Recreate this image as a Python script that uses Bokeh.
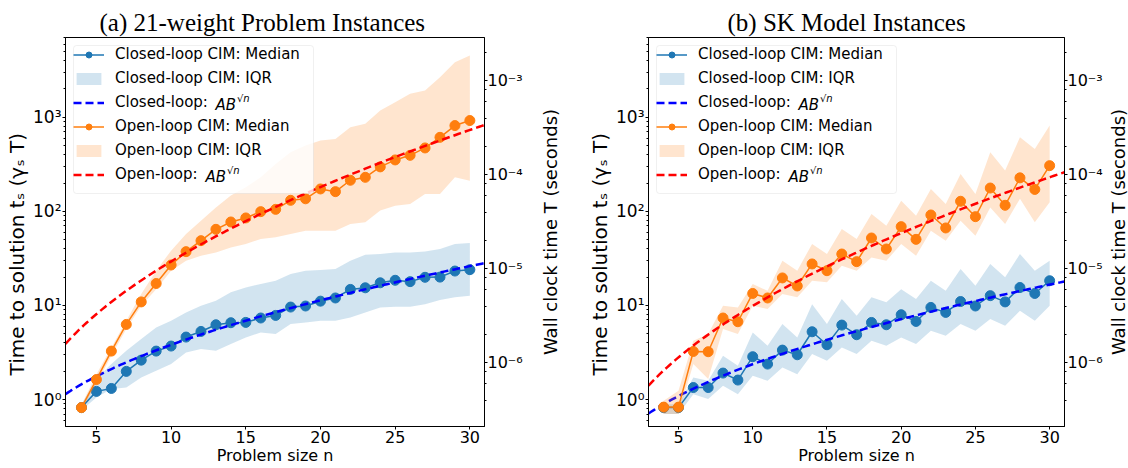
import numpy as np
from bokeh.plotting import figure
from bokeh.models import (Range1d, LogScale, LogAxis, Legend, LegendItem, Label, BoxAnnotation,
                          CustomJSTickFormatter, Title)
from bokeh.layouts import row
from bokeh.embed import file_html
from bokeh.resources import INLINE

# ---------------- data ----------------
n = list(range(4, 31))

# (a) 21-weight problem instances
a_closed_med = [0.82, 1.22, 1.31, 1.99, 2.62, 3.27, 3.70, 4.61, 5.29, 6.23, 6.55, 6.6, 7.35, 7.83,
                9.61, 9.86, 11.1, 12.0, 14.8, 15.4, 17.4, 18.5, 17.9, 19.9, 20.0, 23.2, 24.0]
a_closed_q1 = [0.77, 1.05, 1.29, 1.34, 1.71, 2.02, 2.38, 3.16, 3.44, 3.30, 3.88, 4.57, 5.16, 4.96,
               6.34, 6.59, 6.87, 6.87, 7.45, 8.43, 9.52, 9.69, 9.69, 10.3, 11.4, 12.2, 12.7]
a_closed_q3 = [0.88, 1.65, 2.38, 3.30, 4.39, 5.83, 6.87, 8.43, 9.93, 11.2, 13.8, 15.5, 16.9, 18.3,
               21.6, 23.4, 23.8, 24.4, 29.9, 34.6, 35.2, 36.6, 36.6, 37.5, 39.8, 45.0, 46.1]
a_open_med = [0.82, 1.63, 3.27, 6.28, 10.9, 17.1, 26.9, 37.3, 48.8, 64.4, 77.1, 85.1, 99.3, 105,
              131, 136, 173, 162, 214, 230, 297, 352, 394, 472, 612, 816, 923]
a_open_q1 = [0.77, 1.46, 2.92, 5.61, 9.93, 14.9, 23.4, 29.9, 33.8, 36.6, 41.4, 45.0, 50.9, 52.9,
             57.5, 62.3, 62.3, 62.3, 73.4, 76.4, 102, 115, 120, 153, 153, 230, 212]
a_open_q3 = [0.88, 1.86, 3.57, 6.87, 13.2, 23.4, 38.2, 57.5, 79.6, 110, 147, 180, 230, 319,
             424, 500, 565, 589, 783, 851, 1178, 1444, 1775, 1923, 2666, 3846, 4530]
a_closed_fit_A, a_closed_fit_B = 0.275, 2.297
a_open_fit_A, a_open_fit_B = 0.361, 4.017

# (b) SK model instances
b_closed_med = [0.82, 0.82, 1.34, 1.34, 1.91, 1.61, 2.85, 2.38, 3.35, 2.99, 5.25, 3.82, 6.18, 4.88,
                6.59, 6.23, 7.96, 6.76, 9.52, 8.43, 11.0, 9.86, 12.7, 10.9, 15.5, 13.4, 18.3]
b_closed_q1 = [0.70, 0.70, 1.14, 1.01, 1.40, 1.14, 1.79, 1.58, 2.19, 1.86, 3.04, 2.58, 3.57, 3.04,
               4.21, 3.73, 4.57, 3.88, 5.38, 4.76, 6.34, 5.38, 7.17, 6.08, 8.78, 6.87, 9.93]
b_closed_q3 = [0.89, 0.89, 1.71, 1.58, 2.92, 2.28, 5.16, 3.73, 6.34, 4.57, 10.3, 6.34, 11.7, 7.77,
               12.2, 10.8, 14.9, 11.7, 18.3, 14.3, 24.4, 16.2, 27.6, 19.9, 35.2, 23.4, 29.9]
b_open_med = [0.83, 0.83, 3.24, 3.22, 7.35, 6.71, 13.4, 12.0, 19.6, 16.1, 27.6, 23.4, 35.2, 29.2,
              52.1, 39.8, 68.8, 50.4, 91.5, 66.6, 128, 87.8, 177, 116, 227, 171, 306]
b_open_q1 = [0.70, 0.70, 2.38, 1.65, 5.61, 4.96, 9.93, 9.16, 13.2, 12.2, 18.3, 17.6, 26.4, 23.4,
             32.4, 29.9, 45.0, 33.8, 62.3, 48.8, 79.6, 55.1, 110, 73.4, 136, 76.4, 125]
b_open_q3 = [0.97, 1.24, 4.21, 4.96, 9.93, 9.52, 16.9, 14.3, 29.9, 23.4, 45.0, 35.2, 65.0, 50.9,
             93.8, 70.4, 130, 90.0, 173, 120, 250, 153, 424, 271, 612, 461, 816]
b_closed_fit_A, b_closed_fit_B = 0.166, 2.319
b_open_fit_A, b_open_fit_B = 0.134, 3.896

x_ticks = [5, 10, 15, 20, 25, 30]
y_limits = (10 ** -0.287, 10 ** 3.848)        # time to solution (gamma_s T)
seconds_per_unit = 10 ** -6.39                 # wall clock T per unit of t_s

# ---------------- style ----------------
BLUE = "#1f77b4"
ORANGE = "#ff7f0e"
SANS = "DejaVu Sans"
FRAME_H = 389
TOP, BOTTOM = 37, 42

SUP_JS = """
const sup = {"-":"\u207b","0":"\u2070","1":"\u00b9","2":"\u00b2","3":"\u00b3","4":"\u2074",
             "5":"\u2075","6":"\u2076","7":"\u2077","8":"\u2078","9":"\u2079"};
const e = Math.round(Math.log10(tick));
return "10" + String(e).split("").map(c => sup[c]).join("");
"""


def style_axis(ax, label, size="17px"):
    ax.axis_label = label
    ax.axis_label_text_font = SANS
    ax.axis_label_text_font_size = size
    ax.axis_label_text_font_style = "normal"
    ax.axis_label_text_color = "black"
    ax.axis_label_text_line_height = 1.0
    ax.axis_label_standoff = 1
    ax.major_label_text_font = SANS
    ax.major_label_text_font_size = size
    ax.major_label_text_color = "black"
    ax.major_label_standoff = 1
    ax.axis_line_color = "black"
    ax.major_tick_line_color = "black"
    ax.minor_tick_line_color = "black"
    ax.major_tick_out = 3
    ax.major_tick_in = 0
    ax.minor_tick_out = 2
    ax.minor_tick_in = 0


def side_label(width, border_left):
    """Narrow strip carrying the right-axis title, reading bottom-to-top."""
    f = figure(width=width, height=468, x_range=(0, 1), y_range=(0, 1),
               output_backend="svg", toolbar_location=None,
               x_axis_location=None, y_axis_location=None,
               min_border_left=border_left, min_border_right=0,
               min_border_top=TOP, min_border_bottom=BOTTOM)
    f.outline_line_color = None
    f.background_fill_color = "white"
    f.border_fill_color = "white"
    f.xgrid.visible = False
    f.ygrid.visible = False
    f.add_layout(Title(text="Wall clock time T (seconds)", align="center",
                       text_font=SANS, text_font_size="18px", text_font_style="normal",
                       text_color="black", standoff=0), "left")
    return f


def make_panel(title, x_lo, x_hi, c_med, c_q1, c_q3, c_A, c_B, o_med, o_q1, o_q3, o_A, o_B,
               width, border_left, border_right, title_offset):
    p = figure(width=width, height=468, x_range=Range1d(x_lo, x_hi),
               y_range=Range1d(*y_limits), y_axis_type="log",
               output_backend="svg", toolbar_location=None,
               min_border_left=border_left, min_border_right=border_right,
               min_border_top=TOP, min_border_bottom=BOTTOM)
    p.background_fill_color = "white"
    p.border_fill_color = "white"
    p.outline_line_color = "black"
    p.outline_line_width = 1
    p.xgrid.visible = False
    p.ygrid.visible = False

    p.title.text = title
    p.title.align = "left"
    p.title.offset = title_offset
    p.title.text_font = "Liberation Serif"
    p.title.text_font_size = "25px"
    p.title.text_font_style = "normal"
    p.title.text_color = "black"
    p.title.standoff = 4

    xa = p.xaxis[0]
    style_axis(xa, "Problem size n", size="16px")
    xa.axis_label_standoff = 0
    xa.ticker = x_ticks
    xa.minor_tick_line_color = None
    ya = p.yaxis[0]
    # trailing no-break spaces move the label down, as in the original
    style_axis(ya, "Time to solution t\u209b (\u03b3\u209b T)" + "\u00a0" * 7)
    ya.axis_label_text_font_size = "20px"
    ya.formatter = CustomJSTickFormatter(code=SUP_JS)

    p.extra_y_ranges = {"wall": Range1d(y_limits[0] * seconds_per_unit, y_limits[1] * seconds_per_unit)}
    p.extra_y_scales = {"wall": LogScale()}
    ra = LogAxis(y_range_name="wall")
    style_axis(ra, None, size="16px")
    ra.major_label_standoff = 0
    ra.formatter = CustomJSTickFormatter(code=SUP_JS)
    p.add_layout(ra, "right")

    xf = np.linspace(x_lo, x_hi, 160)

    c_line = p.line(n, c_med, line_color=BLUE, line_width=1.5)
    c_pts = p.scatter(n, c_med, size=10, fill_color=BLUE, line_color=BLUE)
    c_band = p.varea(x=n, y1=c_q1, y2=c_q3, fill_color=BLUE, fill_alpha=0.2)
    c_fit = p.line(xf, c_A * c_B ** np.sqrt(xf), line_color="#0000ff", line_width=2.5, line_dash="8 4")
    o_line = p.line(n, o_med, line_color=ORANGE, line_width=1.5)
    o_pts = p.scatter(n, o_med, size=10, fill_color=ORANGE, line_color=ORANGE)
    o_band = p.varea(x=n, y1=o_q1, y2=o_q3, fill_color=ORANGE, fill_alpha=0.2)
    o_fit = p.line(xf, o_A * o_B ** np.sqrt(xf), line_color="#ff0000", line_width=2.5, line_dash="8 4")

    # legend geometry
    L_MARGIN, L_PAD, L_GW, L_STAND, L_LW = 8, 5, 31, 11, 188
    L_ROW, L_SP, N_ROWS = 18, 6, 6
    box_w = 2 * L_PAD + L_GW + L_STAND + L_LW
    box_h = 2 * L_PAD + N_ROWS * L_ROW + (N_ROWS - 1) * L_SP
    p.add_layout(BoxAnnotation(left=L_MARGIN, right=L_MARGIN + box_w,
                               top=FRAME_H - L_MARGIN, bottom=FRAME_H - L_MARGIN - box_h,
                               left_units="screen", right_units="screen",
                               top_units="screen", bottom_units="screen",
                               fill_color="white", fill_alpha=0.8,
                               line_color="#cccccc", line_width=1, border_radius=3))

    legend = Legend(items=[
        LegendItem(label="Closed-loop CIM: Median", renderers=[c_line, c_pts]),
        LegendItem(label="Closed-loop CIM: IQR", renderers=[c_band]),
        LegendItem(label="Closed-loop: ", renderers=[c_fit]),
        LegendItem(label="Open-loop CIM: Median", renderers=[o_line, o_pts]),
        LegendItem(label="Open-loop CIM: IQR", renderers=[o_band]),
        LegendItem(label="Open-loop: ", renderers=[o_fit]),
    ], location="top_left")
    legend.margin = L_MARGIN
    legend.padding = L_PAD
    legend.spacing = L_SP
    legend.label_height = L_ROW
    legend.label_width = L_LW
    legend.glyph_height = 15
    legend.glyph_width = L_GW
    legend.label_standoff = L_STAND
    legend.label_text_font = SANS
    legend.label_text_font_size = "15px"
    legend.label_text_color = "black"
    legend.border_line_color = None
    legend.background_fill_alpha = 0
    p.add_layout(legend)

    # italic "AB" and superscript sqrt(n) next to the fit entries
    label_x0 = L_MARGIN + L_PAD + L_GW + L_STAND
    for row_idx, prefix_w in ((2, 95.0), (5, 85.0)):
        cy = FRAME_H - (L_MARGIN + L_PAD + row_idx * (L_ROW + L_SP) + L_ROW / 2) + 3
        p.add_layout(Label(x=label_x0 + prefix_w, y=cy, x_units="screen", y_units="screen",
                           text="AB", text_font=SANS, text_font_size="15px",
                           text_font_style="italic", text_baseline="middle", text_color="black"))
        p.add_layout(Label(x=label_x0 + prefix_w + 21.5, y=cy + 6, x_units="screen", y_units="screen",
                           text="\u221an", text_font=SANS, text_font_size="10px",
                           text_font_style="italic", text_baseline="middle", text_color="black"))
    return p


pa = make_panel("(a) 21-weight Problem Instances", 2.93, 30.98,
                a_closed_med, a_closed_q1, a_closed_q3, a_closed_fit_A, a_closed_fit_B,
                a_open_med, a_open_q1, a_open_q3, a_open_fit_A, a_open_fit_B,
                width=537, border_left=65, border_right=53, title_offset=34)
la = side_label(28, 22)
pb = make_panel("(b) SK Model Instances", 2.98, 31.0,
                b_closed_med, b_closed_q1, b_closed_q3, b_closed_fit_A, b_closed_fit_B,
                b_open_med, b_open_q1, b_open_q3, b_open_fit_A, b_open_fit_B,
                width=542, border_left=83, border_right=43, title_offset=79)
lb = side_label(21, 21)

layout = row(pa, la, pb, lb)
open("out.html", "w").write(file_html(layout, INLINE))
